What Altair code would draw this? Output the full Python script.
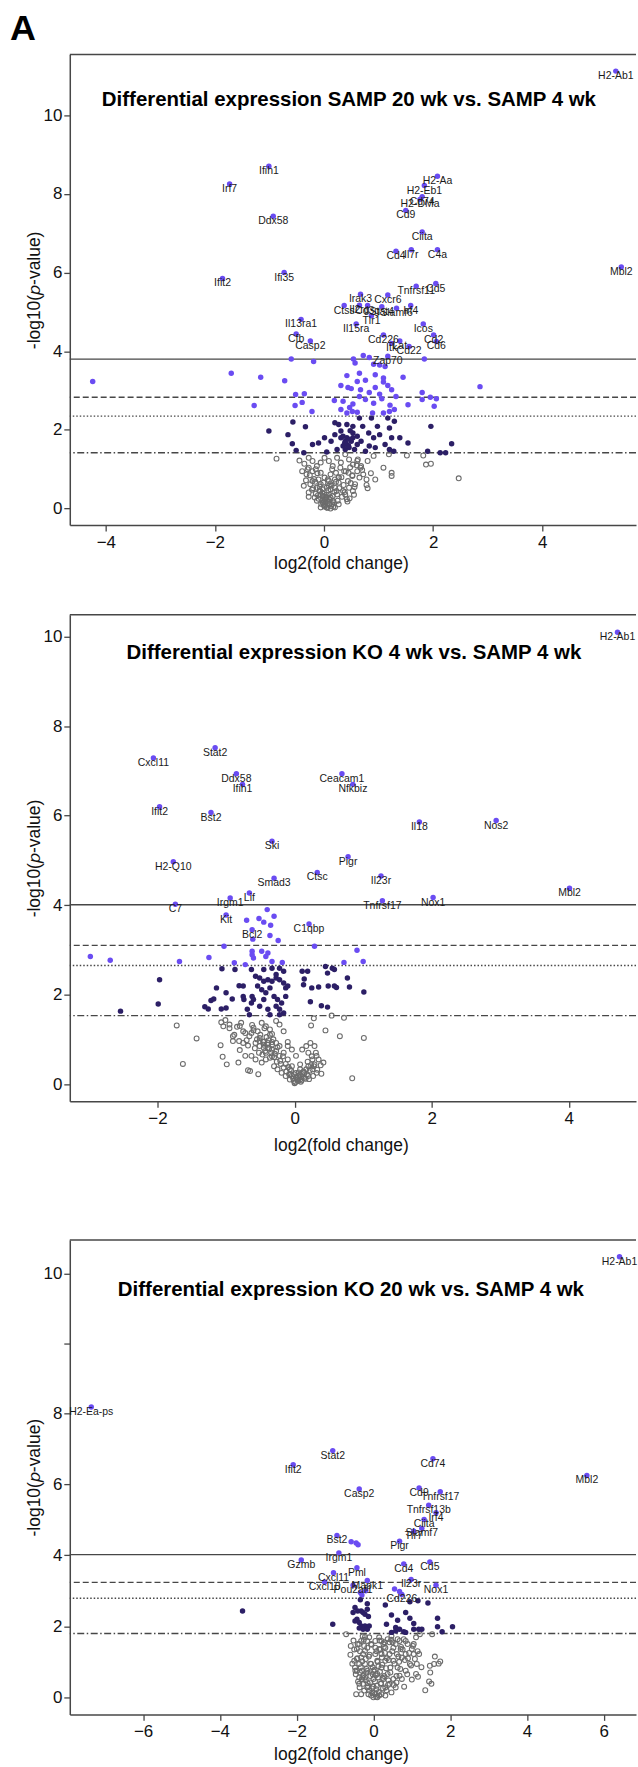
import altair as alt
import pandas as pd

# ---------------- Panel 1: SAMP 20 wk vs SAMP 4 wk ----------------
p1_gene = ["H2-Ab1", "Ifih1", "Irf7", "Ddx58", "Ifit2", "Ifi35", "H2-Aa", "H2-Eb1", "Cd74", "H2-DMa",
           "Cd9", "Ciita", "Cd4", "Il7r", "C4a", "Mbl2", "Tnfrsf11", "Cd5", "Irak3", "Cxcr6",
           "Ctss", "Il2rg", "Cd3g", "Stat4", "Slamf6", "Irf4", "Il13ra1", "Tlr1", "Il15ra", "Icos",
           "Cfb", "Casp2", "Cd226", "Cd2", "Cd6", "Itk", "Lat", "Cd22", "Zap70"]
p1_gene_x = [5.35, -1.01, -1.73, -0.93, -1.86, -0.73, 2.08, 1.84, 1.80, 1.76,
             1.50, 1.80, 1.32, 1.60, 2.08, 5.45, 1.69, 2.05, 0.67, 1.17,
             0.37, 0.65, 0.80, 1.06, 1.33, 1.59, -0.42, 0.87, 0.59, 1.82,
             -0.51, -0.25, 1.09, 2.01, 2.06, 1.24, 1.39, 1.56, 1.17]
p1_gene_y = [11.12, 8.70, 8.25, 7.43, 5.85, 6.00, 8.45, 8.21, 7.93, 7.86,
             7.58, 7.03, 6.54, 6.58, 6.58, 6.14, 5.65, 5.72, 5.45, 5.43,
             5.16, 5.17, 5.16, 5.13, 5.09, 5.16, 4.81, 4.90, 4.69, 4.69,
             4.44, 4.26, 4.41, 4.41, 4.25, 4.20, 4.26, 4.12, 3.87]
p1_hi_x = [-4.24, -1.70, -1.16, -0.72, -1.28, -0.60, -0.19, -0.52, -0.36, -0.53, -0.40, -0.22,
           0.54, 0.57, 0.72, 0.83, 0.91, 1.02, 1.12, 0.65, 0.94, 1.09, 0.42, 1.45, 1.84,
           0.31, 0.44, 0.50, 0.61, 0.76, 0.94, 1.09, 1.17, 0.67, 0.83, 1.02, 1.24, 1.32,
           1.80, 1.95, 2.06, 2.86, 0.19, 0.35, 0.53, 0.65, 0.76, 0.91, 1.06, 1.21, 1.54,
           2.02, 0.31, 0.47, 0.61, 0.89, 1.09, 1.20, 1.29, 1.80, 0.42, 0.52]
p1_hi_y = [3.23, 3.44, 3.34, 3.25, 2.62, 3.80, 3.74, 2.90, 2.92, 2.62, 2.70, 2.47,
           3.80, 3.70, 3.89, 3.84, 3.67, 3.65, 3.61, 3.44, 3.40, 3.32, 3.38, 3.34, 3.80,
           3.13, 3.08, 3.05, 3.23, 3.26, 3.08, 3.22, 3.13, 3.02, 2.95, 2.91, 3.02, 2.85,
           2.95, 2.83, 2.79, 3.10, 2.75, 2.73, 2.66, 2.85, 2.77, 2.68, 2.79, 2.63, 2.64,
           2.60, 2.52, 2.57, 2.45, 2.43, 2.43, 2.47, 2.52, 2.77, 2.43, 2.47]
p1_mid_x = [-1.01, -0.66, -0.57, -0.34, -0.58, -0.51, -0.37, -0.21, -0.10, 0.05, 0.20, 0.27,
            0.42, 0.53, 0.65, 0.71, 0.87, 0.98, 1.17, 1.20, 1.29, 1.39, 1.96, 2.34, 1.90,
            2.13, 2.23, 0.20, 0.31, 0.39, 0.42, 0.46, 0.53, 0.61, 0.68, 0.76, 0.83, 0.91,
            1.02, 1.12, 1.24, 1.28, 1.54, 0.24, 0.35, 0.53, 0.61, 0.31, 0.48, 0.82, 0.94,
            1.20, 0.13, 0.01, 0.39, 0.56, 0.35, 0.42, 0.50, 0.45, 0.38, 0.47]
p1_mid_y = [1.97, 1.88, 2.20, 2.08, 1.65, 1.48, 1.42, 1.63, 1.67, 1.44, 2.18, 2.14,
            2.14, 2.09, 2.30, 2.09, 2.30, 2.09, 2.30, 2.05, 2.22, 1.80, 2.09, 1.65, 1.46,
            1.42, 1.42, 1.88, 1.80, 1.71, 1.63, 1.55, 1.80, 1.63, 1.71, 1.46, 1.59, 1.80,
            1.88, 1.63, 1.80, 1.46, 1.67, 1.50, 1.59, 1.92, 1.84, 1.97, 1.98, 1.92, 1.55,
            1.50, 1.71, 1.80, 1.50, 1.50, 1.84, 1.80, 1.71, 1.60, 1.66, 1.76]
p1_ns_x = [-0.87, -0.36, -0.28, -0.21, -0.13, -0.06, 0.01, 0.09, 0.16, 0.24, 0.31, 0.39, 0.46,
           0.53, 0.61, 0.68, 0.80, 0.91, 1.09, 1.19, 1.24, 1.24, 1.52, 1.82, 1.87, 1.96, 2.47,
           0.94, 0.80, 0.65, 0.72, 0.57, 0.46, 0.35, 0.27, 0.20, 0.12, 0.01, -0.06, -0.13,
           -0.21, -0.28, -0.37, -0.17, -0.02, 0.05, 0.12, 0.01, 0.09, 0.16, 0.24, -0.06,
           -0.13, -0.28, -0.21, -0.32, -0.06, 0.09, -0.02, 0.05, 0.12, -0.10, 0.42, 0.47,
           0.39, 0.53, 0.27, 0.20, 0.10, 0.01, -0.06, 0.52, 0.61, -0.28, -0.15, 0.30, 0.37,
           0.45, 0.22, 0.15, 0.12, 0.20, 0.27, -0.08, -0.01, 0.07, 0.78, 0.67, 0.05, -0.02,
           0.10, 0.16, 0.03, 0.15,
           -0.25, -0.22, -0.18, -0.15, -0.12, -0.10, -0.08, -0.05, -0.03, 0.00, 0.02, 0.04,
           0.06, 0.08, 0.10, 0.12, 0.14, 0.17, 0.19, 0.22, 0.25, 0.28, 0.32, 0.36, 0.40,
           0.44, 0.48, 0.52, 0.56, 0.60, -0.30, -0.26, -0.20, -0.16, -0.11, -0.07, -0.03,
           0.01, 0.05, 0.09, 0.13, 0.18, 0.23, 0.27, 0.33, 0.38, 0.43, 0.49, 0.55, 0.62,
           0.70, 0.78, 0.86, -0.40, -0.45, -0.33, 0.00, 0.03, 0.07, -0.01]
p1_ns_y = [1.27, 1.14, 1.29, 1.21, 1.08, 1.17, 1.29, 1.21, 1.08, 1.29, 1.17, 1.38, 1.25,
           1.12, 1.21, 1.08, 1.21, 1.34, 1.04, 1.38, 0.91, 0.83, 1.35, 1.35, 1.12, 1.14, 0.77,
           0.74, 0.52, 0.79, 0.87, 0.62, 0.53, 0.45, 0.66, 0.74, 0.87, 0.79, 0.62, 0.53,
           0.70, 0.41, 0.58, 0.28, 0.15, 0.03, 0.00, 0.24, 0.36, 0.20, 0.36, 0.36,
           0.20, 0.30, 0.95, 0.87, 0.91, 0.70, 0.49, 0.53, 0.49, 0.74, 0.24, 0.26,
           0.36, 0.45, 0.11, 0.03, 0.11, 0.07, 0.03, 0.83, 0.95, 1.04, 1.00, 1.04, 0.95,
           0.91, 0.91, 1.00, 0.62, 0.53, 0.79, 0.46, 0.66, 0.74, 0.74, 1.04, 0.28, 0.32,
           0.24, 0.32, 0.15, 0.11,
           0.62, 0.48, 0.75, 0.38, 0.90, 0.25, 0.56, 0.12, 0.40, 0.18, 0.08, 0.30,
           0.02, 0.46, 0.14, 0.28, 0.58, 0.05, 0.42, 0.68, 0.20, 0.52, 0.80, 0.60, 0.95,
           0.70, 1.05, 0.85, 0.55, 1.10, 1.00, 0.85, 0.52, 0.68, 0.34, 0.44, 0.22,
           0.05, 0.35, 0.58, 0.06, 0.16, 0.45, 0.80, 0.30, 0.42, 0.18, 0.65, 0.35, 1.25,
           0.98, 0.60, 0.90, 0.95, 1.22, 0.72, 0.10, 0.26, 0.19, 0.30]
p1_thr = [3.80, 2.83, 2.35, 1.42]

# ---------------- Panel 2: KO 4 wk vs SAMP 4 wk ----------------
p2_gene = ["H2-Ab1", "Stat2", "Cxcl11", "Ddx58", "Ifih1", "Ceacam1", "Nfkbiz", "Ifit2", "Bst2",
           "Il18", "Nos2", "Ski", "Pigr", "H2-Q10", "Ctsc", "Il23r", "Mbl2", "Smad3", "Irgm1",
           "Lif", "Tnfrsf17", "Nox1", "C7", "Kit", "C1qbp", "Bcl2"]
p2_gene_x = [4.71, -1.16, -2.06, -0.85, -0.76, 0.69, 0.85, -1.97, -1.22,
             1.82, 2.94, -0.33, 0.78, -1.77, 0.33, 1.26, 4.01, -0.30, -0.94,
             -0.66, 1.28, 2.02, -1.74, -1.00, 0.21, -0.62]
p2_gene_y = [10.10, 7.52, 7.29, 6.94, 6.70, 6.94, 6.70, 6.20, 6.07,
             5.86, 5.89, 5.43, 5.08, 4.97, 4.73, 4.65, 4.38, 4.60, 4.16,
             4.27, 4.10, 4.17, 4.02, 3.78, 3.58, 3.45]
p2_hi_x = [-0.61, -0.36, -0.24, -1.03, 0.29, 0.91, -2.98, -2.69, -1.68, -1.25, -0.88, -0.72,
           -0.62, -0.62, -0.60, -0.48, -0.39, -0.33, -0.18, 0.72, 1.00, -0.42,
           -0.40, -0.45, -0.52, -0.30, -0.70, -0.35]
p2_hi_y = [3.24, 3.32, 3.21, 3.08, 3.08, 2.99, 2.85, 2.77, 2.74, 2.83, 2.71, 2.67,
           2.97, 2.89, 2.82, 2.97, 2.93, 2.74, 2.72, 2.72, 2.74, 2.85,
           3.90, 3.62, 3.70, 3.75, 3.66, 3.55]
p2_mid_x = [-1.06, -0.87, -0.63, -0.45, -1.97, -1.99, -2.54, -1.31, -1.26, -1.22, -1.18, -1.14,
            -1.07, -1.00, -1.00, -0.91, -0.81, -0.75, -0.75, -0.74, -0.62, -0.60, -0.57, -0.51,
            -0.45, -0.39, -0.33, -0.27, -0.22, -0.16, -0.54, -0.48, -0.42, -0.36, -0.30, -0.25,
            -0.19, -0.13, -0.27, -0.22, -0.16, -0.39, -0.51, -0.63, -0.45, 0.11, 0.19, 0.14,
            0.13, 0.25, 0.35, 0.49, 0.45, 0.48, 0.55, 0.58, 0.58, 0.61, 0.77, 0.80, 1.01,
            0.23, 0.39, 0.48, -0.66, -0.69, -0.16, -0.13, -0.10, -0.33, -0.27, -0.22, -0.36,
            -0.22]
p2_mid_y = [2.58, 2.56, 2.56, 2.56, 2.33, 1.79, 1.63, 1.73, 1.68, 1.87, 1.90, 2.15,
            1.68, 1.70, 2.04, 1.90, 2.20, 2.19, 1.96, 1.89, 1.96, 1.89, 2.41, 2.37,
            2.30, 2.33, 2.30, 2.37, 2.33, 2.26, 2.19, 2.11, 2.04, 2.15, 1.96, 1.89,
            1.81, 1.96, 1.74, 1.67, 1.59, 1.67, 1.74, 1.81, 1.89, 2.52, 2.52, 2.35,
            2.22, 2.15, 2.17, 2.19, 2.63, 2.48, 2.59, 2.56, 2.19, 2.16, 2.37, 2.17, 2.06,
            1.84, 1.75, 1.72, 1.55, 1.67, 2.52, 2.15, 2.19, 2.59, 2.45, 2.59, 1.55,
            1.55]
p2_ns_x = [-1.72, -1.43, -1.08, -1.05, -0.99, -0.80, -0.68, -0.65, -0.53, -0.82, -1.63, -1.07,
           -1.01, -0.95, -1.04, -0.84, -0.78, -0.72, -0.66, -0.60, -0.54, -0.48, -0.42, -0.36,
           -0.27, -0.22, -0.16, -0.10, -0.57, -0.51, -0.45, -0.39, -0.33, -0.27, -0.22, -0.16,
           -0.10, -0.04, 0.02, -0.01, 0.05, 0.08, 0.14, 0.20, 0.26, 0.32, 0.29, 0.23, 0.17,
           0.11, 0.20, 0.26, 0.29, 0.32, 0.38, 0.39, 0.42, 0.45, 0.66, 0.54, 0.72, 0.84,
           1.01, 0.28, 0.24, -0.75, -0.72, -0.63, -0.57, -0.48, -0.42, -0.36, -0.30, -0.25,
           -0.19, -0.13, -0.07, -0.04, 0.08, 0.14, -0.07, -0.16, -0.39, -0.33, -0.27, -0.22,
           -0.45, -0.51, -0.63, -0.75, -0.90, -0.90, -0.81, -0.10, -0.04, 0.02, 0.08, 0.20,
           0.02, 0.11, -0.01, 0.05, -0.08, 0.17, 0.24, -0.45, -0.39, -0.33, -0.51, -0.42, -0.33,
           -0.95, -0.88, -0.80, -0.70, -0.60, -0.55, -0.50, -0.46, -0.41, -0.37, -0.33, -0.29,
           -0.25, -0.21, -0.17, -0.13, -0.09, -0.05, -0.02, 0.01, 0.04, 0.07, 0.10, 0.13,
           0.16, 0.19, 0.22, 0.25, 0.28, 0.31, 0.35, -0.58, -0.52, -0.47, -0.43, -0.38,
           -0.34, -0.30, -0.26, -0.20, -0.12, -0.06, 0.00, 0.03, 0.06, 0.09, 0.12, 0.18,
           0.21, 0.27, 0.33, -0.68, -0.62, -0.44, -0.36, -0.31]
p2_ns_y = [1.31, 1.02, 0.87, 0.61, 0.44, 0.76, 0.31, 0.29, 0.22, 0.48, 0.45, 1.38,
           1.43, 1.33, 1.29, 1.28, 1.37, 1.14, 1.07, 1.26, 1.18, 1.37, 1.29, 1.22,
           1.41, 1.33, 1.18, 0.94, 0.92, 0.85, 0.81, 0.88, 0.77, 0.74, 0.63, 0.70,
           0.55, 0.40, 0.25, 0.07, 0.18, 0.33, 0.25, 0.18, 0.33, 0.63, 0.85, 0.92, 0.85,
           0.77, 0.70, 0.55, 0.44, 0.25, 0.42, 0.23, 0.48, 1.20, 1.07, 1.53, 1.48, 0.13,
           1.03, 1.47, 1.31, 0.92, 0.63, 0.63, 0.55, 0.48, 0.55, 0.59, 0.40, 0.33,
           0.25, 0.18, 0.10, 0.18, 0.10, 0.14, 0.33, 0.37, 0.92, 0.94, 0.92, 0.85,
           0.94, 1.03, 1.14, 1.18, 1.07, 0.96, 0.96, 0.85, 0.77, 0.63, 0.44, 0.40,
           0.14, 0.22, 0.22, 0.07, 0.22, 0.33, 0.42, 0.88, 0.81, 0.88, 0.96, 0.70, 0.62,
           1.25, 1.10, 1.30, 0.98, 1.20, 1.00, 1.10, 0.95, 1.05, 0.80, 1.12, 0.68,
           0.82, 0.52, 0.62, 0.45, 0.38, 0.30, 0.12, 0.04, 0.10, 0.20, 0.08, 0.28,
           0.12, 0.50, 0.30, 0.62, 0.40, 0.70, 0.55, 0.80, 0.70, 0.66, 0.74, 0.98,
           0.70, 0.60, 0.50, 0.45, 0.28, 0.22, 0.02, 0.15, 0.26, 0.05, 0.16, 0.22,
           0.11, 0.18, 0.32, 0.86, 1.32, 1.25, 1.10, 1.00]
p2_thr = [4.01, 3.10, 2.65, 1.53]

# ---------------- Panel 3: KO 20 wk vs SAMP 4 wk ----------------
p3_gene = ["H2-Ab1", "H2-Ea-ps", "Stat2", "Ifit2", "Cd74", "Mbl2", "Casp2", "Cd9", "Tnfrsf17",
           "Tnfrsf13b", "Irf4", "Ciita", "Slamf7", "Tlr7", "Bst2", "Pigr", "Irgm1", "Gzmb",
           "Pml", "Cd4", "Cd5", "Cxcl11", "Cxcl10", "Mapk1", "Il23r", "Pou2af1", "Nox1", "Cd226"]
p3_gene_x = [6.41, -7.35, -1.06, -2.09, 1.55, 5.56, -0.37, 1.19, 1.74,
             1.44, 1.63, 1.32, 1.26, 1.05, -0.95, 0.68, -0.90, -1.88,
             -0.43, 0.79, 1.47, -1.04, -1.27, -0.16, 0.98, -0.53, 1.63, 0.74]
p3_gene_y = [10.24, 8.09, 6.95, 6.55, 6.72, 6.25, 5.87, 5.90, 5.79,
             5.41, 5.20, 5.01, 4.76, 4.68, 4.56, 4.40, 4.07, 3.87,
             3.65, 3.76, 3.81, 3.51, 3.25, 3.29, 3.32, 3.16, 3.16, 2.90]
p3_hi_x = [-0.58, -0.45, -0.40, -0.34, 0.55, 0.68, -0.30, -0.20]
p3_hi_y = [4.38, 4.35, 4.30, 2.95, 3.05, 2.98, 2.88, 3.00]
p3_mid_x = [-3.41, -1.06, -0.34, -0.16, -0.48, -0.32, -0.53, -0.43, -0.37, -0.32, -0.22, -0.13,
            -0.16, -0.48, -0.27, 0.31, 0.47, 0.63, 0.34, 0.58, 0.68, 0.84, 0.95, 1.05, 1.16,
            1.42, 0.95, 1.18, 1.26, 1.67, 1.67, 1.79, 2.06, 0.47, 0.58, 0.79, 0.84, 1.05,
            -0.37, -0.27, -0.11, -0.16, -0.41, -0.22]
p3_mid_y = [2.43, 2.06, 2.75, 2.64, 2.53, 2.43, 2.39, 2.20, 2.11, 2.01, 2.01, 2.28,
            2.48, 2.15, 2.39, 2.60, 2.32, 2.17, 2.06, 1.97, 1.92, 2.39, 2.23, 2.08, 2.72,
            2.66, 2.69, 1.92, 1.92, 2.23, 1.99, 1.85, 1.99, 1.83, 1.87, 1.85, 1.83, 1.92,
            1.95, 1.92, 2.01, 1.92, 2.43, 2.34]
p3_ns_x = [-0.71, -0.59, -0.45, -0.37, -0.22, -0.11, 1.19, 1.11, 1.16, 1.51, 1.47, 1.58, 1.74,
           1.13, 0.84, 0.74, 0.68, 0.63, 0.52, 0.42, 0.31, 0.21, 0.10, 0.00, -0.06, -0.11,
           -0.16, -0.27, -0.37, -0.43, -0.37, -0.32, -0.27, -0.22, -0.16, -0.43, -0.48, -0.37,
           -0.22, 0.00, 0.10, 0.21, 0.31, 0.42, 0.52, 0.58, 0.68, 0.79, 0.89, 1.00, 1.05,
           0.95, 0.84, 0.74, 0.58, 0.47, 0.31, 0.15, 0.05, -0.09, 0.00, 0.10, 0.21, 0.31,
           0.42, 0.26, 0.15, 0.05, -0.06, -0.16, -0.22, 0.05, 0.15, 0.37, 0.47, 1.21, 1.53,
           1.45, -0.32, -0.30, -0.24, -0.13, -0.03, 0.08, 0.19, 0.26, 0.37, 0.44, 0.52, 0.61,
           0.71, -0.29, -0.35, -0.50, -0.43, -0.32, -0.16, -0.06, 0.05, 0.21, 0.63, 0.84,
           1.05, 1.11,
           -0.60, -0.55, -0.50, -0.46, -0.42, -0.40, -0.35, -0.33, -0.29, -0.26, -0.24, -0.20,
           -0.18, -0.14, -0.12, -0.08, -0.04, -0.02, 0.02, 0.04, 0.07, 0.09, 0.12, 0.14,
           0.17, 0.20, 0.23, 0.25, 0.28, 0.33, 0.35, 0.39, 0.44, 0.49, 0.55, 0.60, 0.65,
           0.70, 0.76, 0.82, 0.88, 0.93, 0.98, 1.03, 1.08, -0.52, -0.47, -0.41, -0.36,
           -0.30, -0.25, -0.19, -0.10, -0.05, 0.00, 0.06, 0.11, 0.18, 0.24, 0.29, 0.34,
           0.40, 0.46, 0.53, 0.60, 0.67, 0.72, 0.80, 0.90, 1.00, 1.15, 1.25, 1.35, 1.48,
           1.60, 1.70, -0.28, -0.20, -0.08, 0.03, 0.13, 0.22, 0.30, 0.38, 0.50, -0.15,
           -0.02, 0.08, 0.16, 0.27]
p3_ns_y = [1.78, 1.45, 0.09, 1.50, 1.70, 1.69, 1.22, 0.66, 0.58, 0.38, 0.89, 0.94, 1.01,
           0.94, 1.22, 1.12, 0.61, 0.84, 0.52, 0.38, 0.28, 0.09, 0.00, 0.00, 0.05, 0.19,
           0.28, 0.38, 0.56, 0.75, 0.94, 1.12, 1.22, 1.31, 1.40, 1.08, 0.84, 0.38,
           0.56, 0.52, 0.66, 0.84, 1.03, 1.22, 1.40, 1.50, 1.59, 1.64, 1.50, 1.36, 1.22,
           0.94, 0.75, 0.52, 0.28, 0.14, 0.05, 0.05, 0.09, 0.42, 0.75, 1.03, 1.22, 1.40,
           1.55, 1.50, 1.36, 1.22, 0.94, 0.75, 0.94, 1.59, 1.69, 1.64, 1.73, 1.78, 1.78,
           0.45, 0.09, 0.75, 0.19, 0.09, 0.14, 0.23, 0.38, 0.52, 0.66, 0.84, 1.03, 1.22,
           1.36, 0.56, 0.70, 1.03, 1.36, 1.59, 1.59, 1.50, 1.40, 1.59, 1.64, 1.59,
           1.50, 1.69,
           1.20, 0.95, 1.35, 0.65, 1.10, 0.45, 1.30, 0.85, 1.02, 0.62, 1.45, 0.48,
           0.80, 0.32, 1.15, 0.60, 0.25, 0.85, 0.12, 0.45, 0.02, 0.33, 0.56, 0.15,
           0.72, 0.40, 0.92, 0.25, 0.60, 0.82, 1.10, 0.48, 0.70, 1.30, 0.95, 0.42, 1.15,
           0.80, 1.35, 1.05, 0.65, 1.25, 0.90, 1.45, 1.08, 1.60, 0.75, 1.50, 0.28,
           0.50, 1.62, 0.70, 1.20, 1.48, 0.30, 0.62, 1.00, 1.35, 0.55, 1.55, 0.20,
           1.05, 1.62, 0.35, 0.60, 1.00, 1.42, 0.30, 1.10, 0.50, 1.30, 0.85, 0.20, 0.70,
           1.15, 0.95, 1.72, 1.08, 0.95, 0.78, 0.88, 1.12, 1.25, 0.35, 1.55, 0.40,
           0.65, 1.30, 1.60, 1.42]
p3_thr = [4.02, 3.24, 2.79, 1.80]

titles = ["Differential expression SAMP 20 wk vs. SAMP 4 wk",
          "Differential expression KO 4 wk vs. SAMP 4 wk",
          "Differential expression KO 20 wk vs. SAMP 4 wk"]
thr_style = ["solid", "dash", "dot", "dashdot"]

VIOLET = "#6a4cf2"
DARK = "#2c1f66"
GREY = "#6c6c6c"
LINE = "#474747"
FONT = "Liberation Sans"
W = 568


def panel(title, gene, gx, gy, hx, hy, mx, my, nx, ny, thr, xdom, ydom, yrange, height,
          xticks, yticks, ylabexpr, title_xy, xtitle_y, extra=None):
    xs = alt.Scale(domain=xdom, nice=False, zero=False)
    if yrange is None:
        ys = alt.Scale(domain=ydom, nice=False, zero=False)
    else:
        ys = alt.Scale(domain=ydom, range=yrange, nice=False, zero=False)
    X = alt.X("x:Q", scale=xs, axis=alt.Axis(values=xticks, title="log2(fold change)",
                                              titleX=272, titleY=xtitle_y, titleBaseline="middle",
                                              labelPadding=3, tickSize=6))
    yax = dict(values=yticks, title="-log10(\U0001D45D-value)", titleX=-35, titleY=height / 2,
               titleAngle=270, titleAlign="center", titleBaseline="middle",
               labelPadding=2, tickSize=6)
    if ylabexpr:
        yax["labelExpr"] = ylabexpr
    Y = alt.Y("y:Q", scale=ys, axis=alt.Axis(**yax))

    ns = pd.DataFrame({"x": nx, "y": ny})
    col = pd.DataFrame({"x": hx + mx + gx, "y": hy + my + gy,
                        "g": ["hi"] * len(hx) + ["mid"] * len(mx) + ["hi"] * len(gx)})
    lab = pd.DataFrame({"x": gx, "y": gy, "gene": gene})
    rules = pd.DataFrame({"y": thr, "style": thr_style})

    layers = [
        alt.Chart(rules).mark_rule(color=LINE, strokeWidth=1.4).encode(
            y=Y,
            strokeDash=alt.StrokeDash("style:N", legend=None, scale=alt.Scale(
                domain=thr_style, range=[[1, 0], [6, 3], [1.5, 2], [7, 2.5, 1.5, 2.5]]))),
        alt.Chart(ns).mark_point(shape="circle", filled=False, color=GREY, strokeWidth=1.1,
                                 size=24, opacity=1).encode(x=X, y=Y),
        alt.Chart(col).mark_circle(size=30, opacity=1).encode(
            x=X, y=Y,
            color=alt.Color("g:N", legend=None,
                            scale=alt.Scale(domain=["hi", "mid"], range=[VIOLET, DARK]))),
        alt.Chart(lab).mark_text(fontSize=10.5, font=FONT, dy=5, color="#1a1a1a",
                                 align="center", baseline="middle").encode(
            x=X, y=Y, text="gene:N"),
        alt.Chart(pd.DataFrame({"t": [title]})).mark_text(
            fontSize=20.5, font=FONT, fontWeight="bold", color="#000",
            align="center", baseline="middle").encode(
            x=alt.value(title_xy[0]), y=alt.value(title_xy[1]), text="t:N"),
        alt.Chart(pd.DataFrame({"a": [0]})).mark_rule(color=LINE, strokeWidth=1.5).encode(
            x=alt.value(0), x2=alt.value(W), y=alt.value(0)),
    ]
    if extra:
        layers += extra
    return alt.layer(*layers).properties(width=W, height=height)


def spacer(h):
    return alt.Chart(pd.DataFrame({"a": [0]})).mark_point(opacity=0).encode(
        x=alt.value(0), y=alt.value(0)).properties(width=W, height=h)


extra1 = [
    alt.Chart(pd.DataFrame({"t": ["A"]})).mark_text(
        fontSize=36, font=FONT, fontWeight="bold", color="#000", align="center",
        baseline="middle").encode(x=alt.value(-47), y=alt.value(-26), text="t:N"),
    alt.Chart(pd.DataFrame({"a": [0]})).mark_rule(opacity=0, strokeWidth=1).encode(
        x=alt.value(-70), x2=alt.value(-60), y=alt.value(-52)),
]

p1 = panel(titles[0], p1_gene, p1_gene_x, p1_gene_y, p1_hi_x, p1_hi_y, p1_mid_x, p1_mid_y,
           p1_ns_x, p1_ns_y, p1_thr, [-4.66, 5.72], [-0.42, 11.54], None, 472,
           [-4, -2, 0, 2, 4], [0, 2, 4, 6, 8, 10], None, (280, 46), 39, extra1)
p2 = panel(titles[1], p2_gene, p2_gene_x, p2_gene_y, p2_hi_x, p2_hi_y, p2_mid_x, p2_mid_y,
           p2_ns_x, p2_ns_y, p2_thr, [-3.28, 4.98], [-0.386, 10.49], None, 488,
           [-2, 0, 2, 4], [0, 2, 4, 6, 8, 10], None, (285, 38), 44)
p3 = panel(titles[2], p3_gene, p3_gene_x, p3_gene_y, p3_hi_x, p3_hi_y, p3_mid_x, p3_mid_y,
           p3_ns_x, p3_ns_y, p3_thr, [-7.91, 6.84], [-0.48, 8, 10.48], [476, 174, 0], 476,
           [-6, -4, -2, 0, 2, 4, 6], [0, 2, 4, 6, 8, 9, 10],
           "datum.value == 9 ? '' : datum.label", (282, 50), 40)

chart = alt.vconcat(p1, spacer(90), p2, spacer(139), p3, spacing=0, bounds="flush").properties(
    padding={"left": 0, "top": 0, "right": 0, "bottom": 0}
).configure_view(stroke=None).configure_axis(
    grid=False, domainColor=LINE, tickColor=LINE, domainWidth=1.5, tickWidth=1.3,
    labelFont=FONT, labelFontSize=17, labelColor="#111",
    titleFont=FONT, titleFontSize=17.5, titleFontWeight="normal", titleColor="#111"
).configure_axisX(labelFlush=False, labelOverlap=False).configure_axisY(labelOverlap=False)

chart.save("out.html", embed_options={"renderer": "svg", "actions": False})
